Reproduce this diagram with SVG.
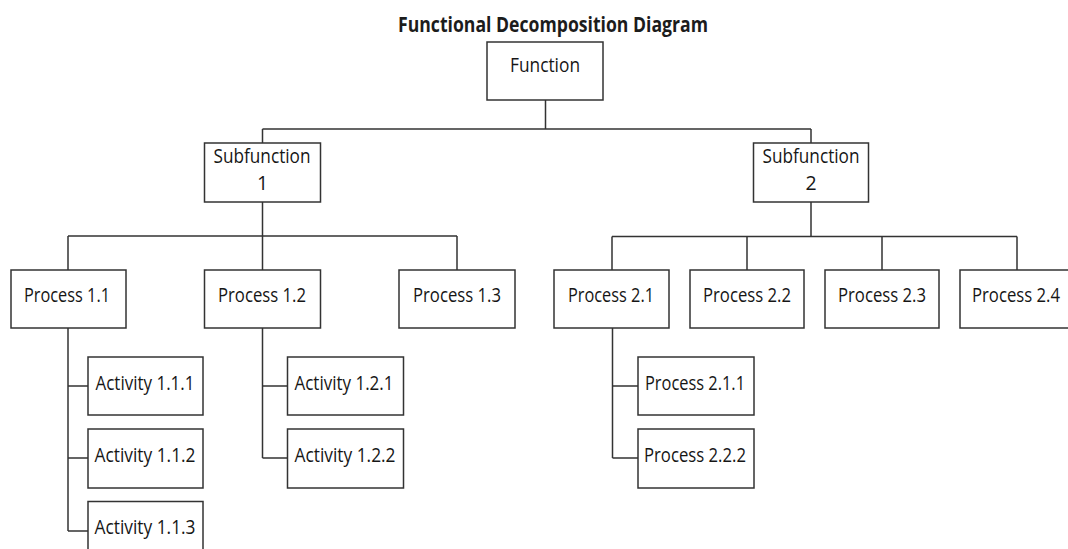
<svg xmlns="http://www.w3.org/2000/svg" width="1068" height="549" viewBox="0 0 1068 549">
  <style>
    .box { fill: #ffffff; stroke: #333333; stroke-width: 1.5; }
    .lbl { font-family: "Open Sans", "Liberation Sans", sans-serif; font-size: 19.5px; fill: #161616; text-anchor: middle; }
    .title { font-family: "Open Sans", "Liberation Sans", sans-serif; font-size: 22px; font-weight: bold; fill: #1c1c1c; text-anchor: middle; }
    .wire { fill: none; stroke: #333333; stroke-width: 1.5; }
  </style>
  <rect width="1068" height="549" fill="#ffffff"/>

  <text class="title" x="553" y="32" textLength="310" lengthAdjust="spacingAndGlyphs">Functional Decomposition Diagram</text>

  <!-- tree connectors -->
  <g id="connectors">
    <path class="wire" d="M545.5 100 V129 M262.5 129 H811 M262.5 129 V143 M811 129 V143"/>
    <path class="wire" d="M262.5 202 V236 M68 236 H457 M68 236 V270 M262.5 236 V270 M457 236 V270"/>
    <path class="wire" d="M811 202 V236.5 M612 236.5 H1017 M612 236.5 V270 M747 236.5 V270 M882 236.5 V270 M1017 236.5 V270"/>
    <path class="wire" d="M68 328 V531 M68 386 H88 M68 458 H88 M68 531 H88"/>
    <path class="wire" d="M262.5 328 V458 M262.5 386 H287 M262.5 458 H287"/>
    <path class="wire" d="M612.5 328 V458 M612.5 386 H638 M612.5 458 H638"/>
  </g>

  <g id="function">
    <rect class="box" x="487" y="42" width="116" height="58"/>
    <text class="lbl" x="545" y="72" textLength="70" lengthAdjust="spacingAndGlyphs">Function</text>
  </g>

  <g id="subfunction-1">
    <rect class="box" x="204.5" y="143" width="116" height="59"/>
    <text class="lbl" x="262" y="163" textLength="97" lengthAdjust="spacingAndGlyphs">Subfunction</text>
    <text class="lbl" x="262.5" y="190">1</text>
  </g>
  <g id="subfunction-2">
    <rect class="box" x="753.5" y="143" width="115" height="59"/>
    <text class="lbl" x="811" y="163" textLength="97" lengthAdjust="spacingAndGlyphs">Subfunction</text>
    <text class="lbl" x="811" y="190">2</text>
  </g>

  <g id="process-1-1">
    <rect class="box" x="11" y="270" width="115" height="58"/>
    <text class="lbl" x="67" y="302" textLength="86" lengthAdjust="spacingAndGlyphs">Process 1.1</text>
  </g>
  <g id="process-1-2">
    <rect class="box" x="204.5" y="270" width="116" height="58"/>
    <text class="lbl" x="262" y="302" textLength="88" lengthAdjust="spacingAndGlyphs">Process 1.2</text>
  </g>
  <g id="process-1-3">
    <rect class="box" x="399" y="270" width="116" height="58"/>
    <text class="lbl" x="457" y="302" textLength="88" lengthAdjust="spacingAndGlyphs">Process 1.3</text>
  </g>
  <g id="process-2-1">
    <rect class="box" x="554" y="270" width="115" height="58"/>
    <text class="lbl" x="611" y="302" textLength="86" lengthAdjust="spacingAndGlyphs">Process 2.1</text>
  </g>
  <g id="process-2-2">
    <rect class="box" x="690" y="270" width="114" height="58"/>
    <text class="lbl" x="747" y="302" textLength="88" lengthAdjust="spacingAndGlyphs">Process 2.2</text>
  </g>
  <g id="process-2-3">
    <rect class="box" x="825" y="270" width="114" height="58"/>
    <text class="lbl" x="882" y="302" textLength="88" lengthAdjust="spacingAndGlyphs">Process 2.3</text>
  </g>
  <g id="process-2-4">
    <rect class="box" x="960" y="270" width="115" height="58"/>
    <text class="lbl" x="1016" y="302" textLength="88" lengthAdjust="spacingAndGlyphs">Process 2.4</text>
  </g>

  <g id="activity-1-1-1">
    <rect class="box" x="88" y="357" width="115" height="58"/>
    <text class="lbl" x="145" y="390" textLength="99" lengthAdjust="spacingAndGlyphs">Activity 1.1.1</text>
  </g>
  <g id="activity-1-1-2">
    <rect class="box" x="88" y="429" width="115" height="59"/>
    <text class="lbl" x="145" y="462" textLength="101" lengthAdjust="spacingAndGlyphs">Activity 1.1.2</text>
  </g>
  <g id="activity-1-1-3">
    <rect class="box" x="88" y="501.5" width="115" height="58"/>
    <text class="lbl" x="145" y="534" textLength="101" lengthAdjust="spacingAndGlyphs">Activity 1.1.3</text>
  </g>
  <g id="activity-1-2-1">
    <rect class="box" x="287.5" y="357" width="116" height="58"/>
    <text class="lbl" x="344" y="390" textLength="99" lengthAdjust="spacingAndGlyphs">Activity 1.2.1</text>
  </g>
  <g id="activity-1-2-2">
    <rect class="box" x="287.5" y="429" width="116" height="59"/>
    <text class="lbl" x="345" y="462" textLength="101" lengthAdjust="spacingAndGlyphs">Activity 1.2.2</text>
  </g>

  <g id="process-2-1-1">
    <rect class="box" x="638" y="357" width="116" height="58"/>
    <text class="lbl" x="695" y="390" textLength="100" lengthAdjust="spacingAndGlyphs">Process 2.1.1</text>
  </g>
  <g id="process-2-2-2">
    <rect class="box" x="638" y="429" width="116" height="59"/>
    <text class="lbl" x="695" y="462" textLength="102" lengthAdjust="spacingAndGlyphs">Process 2.2.2</text>
  </g>
</svg>
